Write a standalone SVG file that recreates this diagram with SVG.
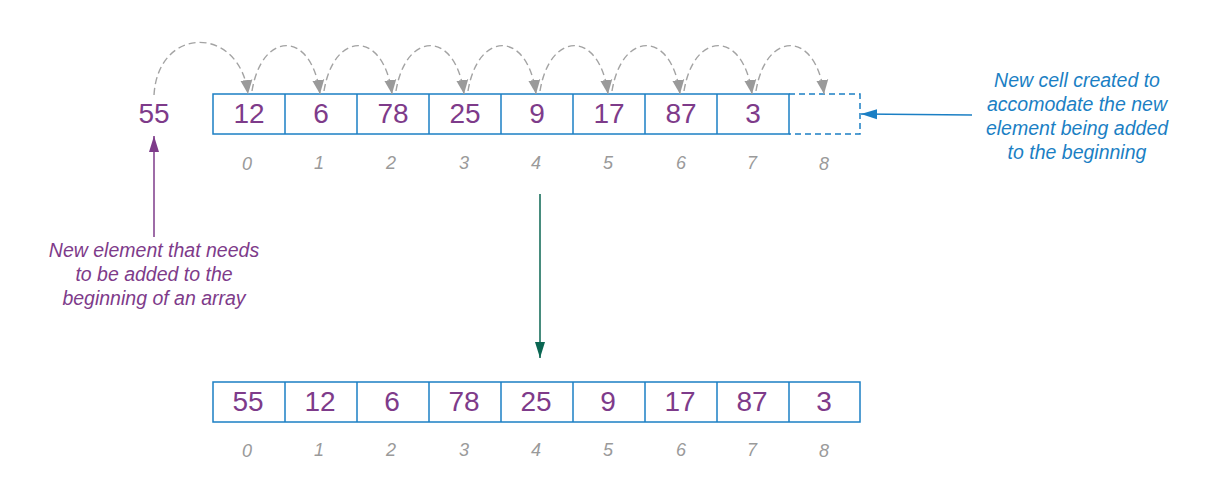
<svg xmlns="http://www.w3.org/2000/svg" width="1212" height="496" viewBox="0 0 1212 496">
<style>
.cell{fill:none;stroke:#1b7fc4;stroke-width:1.5}
.dcell{fill:none;stroke:#1b7fc4;stroke-width:1.5;stroke-dasharray:6 4}
.num{font-family:"Liberation Sans",Arial,sans-serif;font-size:28px;fill:#7e3b8a;text-anchor:middle}
.idx{font-family:"Liberation Sans",Arial,sans-serif;font-size:18px;font-style:italic;fill:#9a9a9a;text-anchor:middle}
.note{font-family:"Liberation Sans",Arial,sans-serif;font-size:19.5px;font-style:italic;text-anchor:middle}
.arc{fill:none;stroke:#a3a3a3;stroke-width:1.4;stroke-dasharray:7 4}
</style>
<defs>
<marker id="mg" markerUnits="userSpaceOnUse" markerWidth="14" markerHeight="14" viewBox="0 0 14 12" refX="14" refY="6" orient="auto"><path d="M0,0 L14,6 L0,12 Z" fill="#9a9a9a"/></marker>
<marker id="mp" markerUnits="userSpaceOnUse" markerWidth="16" markerHeight="12" viewBox="0 0 16 10" refX="16" refY="5" orient="auto"><path d="M0,0 L16,5 L0,10 Z" fill="#7e3b8a"/></marker>
<marker id="mb" markerUnits="userSpaceOnUse" markerWidth="16" markerHeight="12" viewBox="0 0 16 10" refX="16" refY="5" orient="auto"><path d="M0,0 L16,5 L0,10 Z" fill="#1b7fc4"/></marker>
<marker id="mt" markerUnits="userSpaceOnUse" markerWidth="16" markerHeight="12" viewBox="0 0 16 10" refX="16" refY="5" orient="auto"><path d="M0,0 L16,5 L0,10 Z" fill="#0a6652"/></marker>
</defs>
<rect width="1212" height="496" fill="#ffffff"/>

<g id="new-element">
<text class="num" x="154" y="123">55</text>
</g>

<g id="top-array">
<rect class="cell" x="213" y="94" width="576" height="40"/>
<line class="cell" x1="285" y1="94" x2="285" y2="134"/>
<line class="cell" x1="357" y1="94" x2="357" y2="134"/>
<line class="cell" x1="429" y1="94" x2="429" y2="134"/>
<line class="cell" x1="501" y1="94" x2="501" y2="134"/>
<line class="cell" x1="573" y1="94" x2="573" y2="134"/>
<line class="cell" x1="645" y1="94" x2="645" y2="134"/>
<line class="cell" x1="717" y1="94" x2="717" y2="134"/>
<path class="dcell" d="M789,94 H860 V134 H789"/>
<text class="num" x="249" y="123">12</text>
<text class="num" x="321" y="123">6</text>
<text class="num" x="393" y="123">78</text>
<text class="num" x="465" y="123">25</text>
<text class="num" x="537" y="123">9</text>
<text class="num" x="609" y="123">17</text>
<text class="num" x="681" y="123">87</text>
<text class="num" x="753" y="123">3</text>
<text class="idx" x="247" y="170">0</text>
<text class="idx" x="319" y="169">1</text>
<text class="idx" x="391" y="169">2</text>
<text class="idx" x="464" y="169">3</text>
<text class="idx" x="536" y="169">4</text>
<text class="idx" x="608" y="169">5</text>
<text class="idx" x="681" y="169">6</text>
<text class="idx" x="752" y="169">7</text>
<text class="idx" x="824" y="170">8</text>
</g>

<g id="bottom-array">
<rect class="cell" x="213" y="382" width="647" height="40"/>
<line class="cell" x1="285" y1="382" x2="285" y2="422"/>
<line class="cell" x1="357" y1="382" x2="357" y2="422"/>
<line class="cell" x1="429" y1="382" x2="429" y2="422"/>
<line class="cell" x1="501" y1="382" x2="501" y2="422"/>
<line class="cell" x1="573" y1="382" x2="573" y2="422"/>
<line class="cell" x1="645" y1="382" x2="645" y2="422"/>
<line class="cell" x1="717" y1="382" x2="717" y2="422"/>
<line class="cell" x1="789" y1="382" x2="789" y2="422"/>
<text class="num" x="248" y="411">55</text>
<text class="num" x="320" y="411">12</text>
<text class="num" x="392" y="411">6</text>
<text class="num" x="464" y="411">78</text>
<text class="num" x="536" y="411">25</text>
<text class="num" x="608" y="411">9</text>
<text class="num" x="680" y="411">17</text>
<text class="num" x="752" y="411">87</text>
<text class="num" x="824" y="411">3</text>
<text class="idx" x="247" y="457">0</text>
<text class="idx" x="319" y="456">1</text>
<text class="idx" x="391" y="456">2</text>
<text class="idx" x="464" y="456">3</text>
<text class="idx" x="536" y="456">4</text>
<text class="idx" x="608" y="456">5</text>
<text class="idx" x="681" y="456">6</text>
<text class="idx" x="752" y="456">7</text>
<text class="idx" x="824" y="457">8</text>
</g>

<g id="note-left">
<text class="note" x="154" y="257" fill="#7e3b8a">New element that needs</text>
<text class="note" x="154" y="281" fill="#7e3b8a">to be added to the</text>
<text class="note" x="154" y="305" fill="#7e3b8a">beginning of an array</text>
</g>

<g id="note-right">
<text class="note" x="1077" y="87" fill="#1b7fc4">New cell created to</text>
<text class="note" x="1077" y="111" fill="#1b7fc4">accomodate the new</text>
<text class="note" x="1077" y="135" fill="#1b7fc4">element being added</text>
<text class="note" x="1077" y="159" fill="#1b7fc4">to the beginning</text>
</g>

<g id="connectors">
<path class="arc" d="M154,95 C158,25 240,25 248,94" marker-end="url(#mg)"/>
<path class="arc" d="M252,91 C262,30 312,30 320,94" marker-end="url(#mg)"/>
<path class="arc" d="M324,91 C334,30 384,30 392,94" marker-end="url(#mg)"/>
<path class="arc" d="M396,91 C406,30 456,30 464,94" marker-end="url(#mg)"/>
<path class="arc" d="M468,91 C478,30 528,30 536,94" marker-end="url(#mg)"/>
<path class="arc" d="M540,91 C550,30 600,30 608,94" marker-end="url(#mg)"/>
<path class="arc" d="M612,91 C622,30 672,30 680,94" marker-end="url(#mg)"/>
<path class="arc" d="M684,91 C694,30 744,30 752,94" marker-end="url(#mg)"/>
<path class="arc" d="M756,91 C766,30 816,30 824,94" marker-end="url(#mg)"/>
<line x1="154" y1="237" x2="154" y2="136" stroke="#7e3b8a" stroke-width="1.5" marker-end="url(#mp)"/>
<line x1="972" y1="115" x2="861" y2="114" stroke="#1b7fc4" stroke-width="1.5" marker-end="url(#mb)"/>
<line x1="540" y1="194" x2="540" y2="358" stroke="#0a6652" stroke-width="1.5" marker-end="url(#mt)"/>
</g>
</svg>
